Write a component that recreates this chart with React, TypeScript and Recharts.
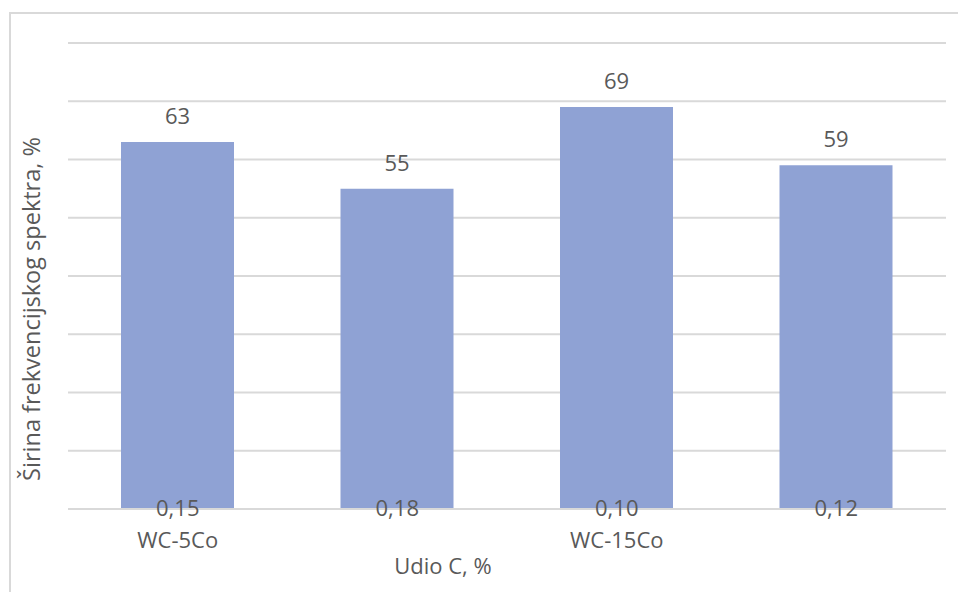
import React from 'react';
import { BarChart, Bar, XAxis, YAxis, CartesianGrid, LabelList, Label } from 'recharts';

const categories = ['0,15', '0,18', '0,10', '0,12'];
const groupLabels = ['WC-5Co', '', 'WC-15Co', ''];
const values = [63, 55, 69, 59];
const yTicks = [0, 10, 20, 30, 40, 50, 60, 70, 80];

const data = categories.map((c, i) => ({ cat: c, group: groupLabels[i], value: values[i] }));

const FONT = "'Open Sans', sans-serif";
const TEXT = '#595959';

const Tick = (props: any) => {
  const { x, y, payload, index } = props;
  const idx = payload && typeof payload.index === 'number' ? payload.index : index;
  return (
    <g>
      <text x={x} y={y + 7} textAnchor="middle" fill={TEXT} fontSize={22} fontFamily={FONT}>
        {payload.value}
      </text>
      {groupLabels[idx] ? (
        <text x={x} y={y + 39} textAnchor="middle" fill={TEXT} fontSize={22} fontFamily={FONT}>
          {groupLabels[idx]}
        </text>
      ) : null}
    </g>
  );
};

const EmptyTick = () => <g />;

const YTitle = (props: any) => {
  const vb = props.viewBox || {};
  const cx = (vb.x || 0) + 40;
  const cy = (vb.y || 0) + (vb.height || 0) / 2 + 33;
  return (
    <text
      x={cx}
      y={cy}
      transform={`rotate(-90, ${cx}, ${cy})`}
      textAnchor="middle"
      fill={TEXT}
      fontSize={23.5}
      fontFamily={FONT}
    >
      Širina frekvencijskog spektra, %
    </text>
  );
};

export default function App() {
  return (
    <div style={{ position: 'absolute', left: 0, top: 0, width: 958, height: 592, overflow: 'hidden', background: '#fff' }}>
      <div
        style={{
          position: 'absolute',
          left: 9,
          top: 12,
          width: 1200,
          height: 1200,
          border: '2px solid #d9d9d9',
          boxSizing: 'border-box',
        }}
      />
      <div style={{ position: 'absolute', left: 0, top: 0 }}>
        <BarChart width={958} height={592} data={data} margin={{ top: 43, right: 12, bottom: 18, left: 0 }}>
          <CartesianGrid horizontal vertical={false} stroke="#d9d9d9" strokeWidth={2} />
          <YAxis
            domain={[0, 80]}
            ticks={yTicks}
            width={68}
            tick={<EmptyTick />}
            axisLine={false}
            tickLine={false}
          >
            <Label content={<YTitle />} />
          </YAxis>
          <Bar dataKey="value" fill="#8FA2D4" barSize={113} isAnimationActive={false}>
            <LabelList dataKey="value" position="top" offset={18} fill={TEXT} fontSize={22} fontFamily={FONT} />
          </Bar>
          <XAxis
            dataKey="cat"
            height={65}
            tickSize={0}
            tickMargin={0}
            tickLine={false}
            axisLine={{ stroke: '#d9d9d9', strokeWidth: 2 }}
            tick={<Tick />}
            interval={0}
          >
            <Label value="Udio C, %" position="insideBottom" offset={0} dx={-64} fill={TEXT} fontSize={22} fontFamily={FONT} />
          </XAxis>
        </BarChart>
      </div>
    </div>
  );
}
